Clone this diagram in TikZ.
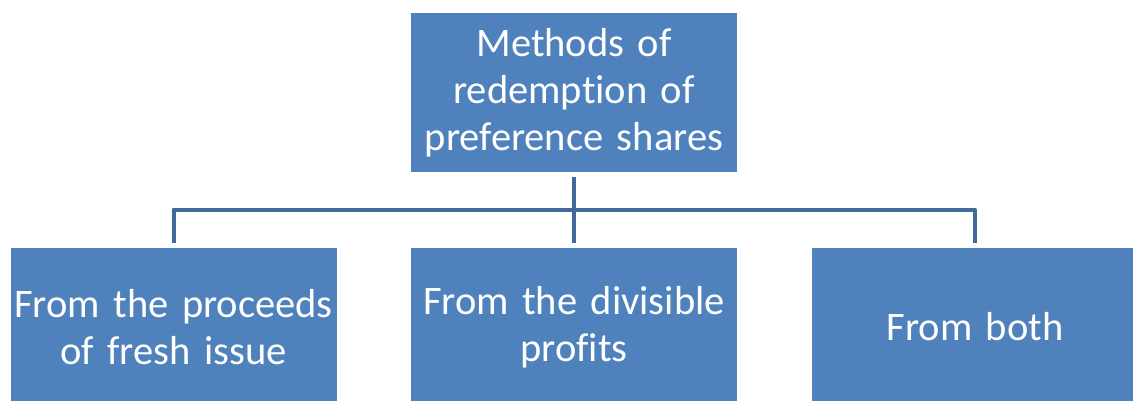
\documentclass[tikz,border=0pt]{standalone}
\usepackage{fontspec}
\setmainfont[Ligatures=CommonOff]{Carlito}
\definecolor{boxblue}{HTML}{4F81BD}
\definecolor{linkblue}{HTML}{41699B}
\tikzset{
  methodbox/.style={rectangle, fill=boxblue, text=white, align=center,
    minimum width=326pt, text width=326pt, inner xsep=0pt, inner ysep=2pt,
    outer sep=5.5pt, font=\fontsize{40.5}{47}\selectfont},
  link/.style={draw=linkblue, line width=4pt, line join=round}
}
\begin{document}
\begin{tikzpicture}[x=1pt,y=-1pt]
    \useasboundingbox (0,0) rectangle (1133,401);

    % root of the tree
    \node[methodbox, minimum height=159pt] (methods) at (574,92.5)
      {Methods of\\redemption of\\preference shares};

    % the three ways
    \foreach \name\x\txt in {
        fresh/173.5/{From the proceeds\\of fresh issue},
        profits/574/{From the divisible\\profits},
        both/975/{From both}}{
      \node[methodbox, minimum height=158pt] (\name) at (\x,327) {\txt};
    }

    \draw[link] (methods.south) -- (profits.north);
    \draw[link] (fresh.north) -- ++(0,-33) -| (both.north);
  \end{tikzpicture}
\end{document}
